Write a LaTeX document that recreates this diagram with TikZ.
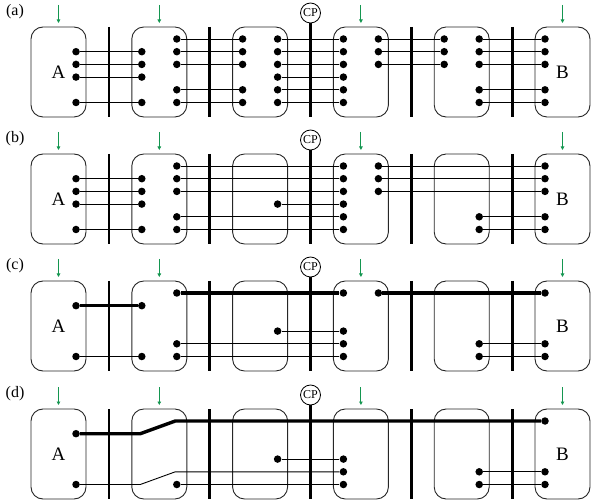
\documentclass[tikz,border=0pt]{standalone}
\usepackage{fontspec}
\setmainfont{Liberation Serif}
\usetikzlibrary{arrows.meta,positioning}

\definecolor{feedgreen}{RGB}{20,150,80}

\tikzset{
  unit/.style={draw=black!85, rounded corners=12pt, minimum width=55pt,
    minimum height=90pt, inner sep=0pt, outer sep=0pt, line width=0.9pt,
    font=\fontsize{19}{19}\selectfont},
  port/.style={circle, fill, inner sep=0pt, minimum size=7.5pt},
  barrier/.style={line width=2.8pt},
  wire/.style={line width=0.9pt},
  trunk/.style={line width=3.4pt},
  inlet/.style={draw=feedgreen, line width=0.9pt, -{Triangle[length=3.5pt,width=3.5pt]}},
  cpoint/.style={draw, circle, inner sep=0pt, minimum size=20pt, line width=0.8pt,
    font=\fontsize{12}{12}\selectfont},
}

\newcommand\portsL[3]{%
  \foreach \rw in {#3}
    \node[port] (#1#2l\rw) at ([xshift=-17.5pt,yshift={-(12+12.7*(\rw-1))*1pt}]#1#2.north) {};}
\newcommand\portsR[3]{%
  \foreach \rw in {#3}
    \node[port] (#1#2r\rw) at ([xshift=17.5pt,yshift={-(12+12.7*(\rw-1))*1pt}]#1#2.north) {};}

\begin{document}
\begin{tikzpicture}[x=1pt,y=-1pt]
  \useasboundingbox (0,0) rectangle (594,502);

  \foreach \p/\t in {a/27,b/154,c/281,d/409}{
    \node[font=\fontsize{16}{16}\selectfont] (\p lab) at (15,\t-15) {(\p)};
    \foreach \bx/\txt in {1/A,2/,3/,4/,5/,6/B}
      \node[unit] (\p\bx) at ({58.5+100.8*(\bx-1)},\t+45) {\txt};
    \node[cpoint] (\p cp) at (310.5,\t-14) {CP};
    \foreach \bx in {1,2,4,5}
      \draw[barrier] ({109+100.8*(\bx-1)},\t) -- ++(0,90);
    \draw[barrier] (\p cp) -- (310.5,\t+90);
    \foreach \bx in {1,2,4,6}
      \draw[inlet] ([yshift=22pt]\p\bx.north) -- ([yshift=4pt]\p\bx.north);
  }

  % (a)
  \portsR{a}{1}{2,3,4,6}
  \portsL{a}{2}{2,3,4,6}
  \portsR{a}{2}{1,2,3,5,6}
  \portsL{a}{3}{1,2,3,5,6}
  \portsR{a}{3}{1,...,6}
  \portsL{a}{4}{1,...,6}
  \portsR{a}{4}{1,2,3}
  \portsL{a}{5}{1,2,3}
  \portsR{a}{5}{1,2,3,5,6}
  \portsL{a}{6}{1,2,3,5,6}
  \foreach \rw in {2,3,4,6} \draw[wire] (a1r\rw) -- (a2l\rw);
  \foreach \rw in {1,2,3,5,6} \draw[wire] (a2r\rw) -- (a3l\rw);
  \foreach \rw in {1,...,6} \draw[wire] (a3r\rw) -- (a4l\rw);
  \foreach \rw in {1,2,3} \draw[wire] (a4r\rw) -- (a5l\rw);
  \foreach \rw in {1,2,3,5,6} \draw[wire] (a5r\rw) -- (a6l\rw);

  % (b)
  \portsR{b}{1}{2,3,4,6}
  \portsL{b}{2}{2,3,4,6}
  \portsR{b}{2}{1,2,3,5,6}
  \portsR{b}{3}{4}
  \portsL{b}{4}{1,...,6}
  \portsR{b}{4}{1,2,3}
  \portsR{b}{5}{5,6}
  \portsL{b}{6}{1,2,3,5,6}
  \foreach \rw in {2,3,4,6} \draw[wire] (b1r\rw) -- (b2l\rw);
  \foreach \rw in {1,2,3,5,6} \draw[wire] (b2r\rw) -- (b4l\rw);
  \draw[wire] (b3r4) -- (b4l4);
  \foreach \rw in {1,2,3} \draw[wire] (b4r\rw) -- (b6l\rw);
  \foreach \rw in {5,6} \draw[wire] (b5r\rw) -- (b6l\rw);

  % (c)
  \portsR{c}{1}{2,6}
  \portsL{c}{2}{2,6}
  \portsR{c}{2}{1,5,6}
  \portsR{c}{3}{4}
  \portsL{c}{4}{1,4,5,6}
  \portsR{c}{4}{1}
  \portsR{c}{5}{5,6}
  \portsL{c}{6}{1,5,6}
  \draw[trunk] (c1r2) -- (c2l2);
  \draw[wire] (c1r6) -- (c2l6);
  \draw[trunk] (c2r1) -- (c4l1);
  \foreach \rw in {5,6} \draw[wire] (c2r\rw) -- (c4l\rw);
  \draw[wire] (c3r4) -- (c4l4);
  \draw[trunk] (c4r1) -- (c6l1);
  \foreach \rw in {5,6} \draw[wire] (c5r\rw) -- (c6l\rw);

  % (d)
  \portsR{d}{1}{2,6}
  \portsR{d}{2}{6}
  \portsR{d}{3}{4}
  \portsL{d}{4}{4,5,6}
  \portsR{d}{5}{5,6}
  \portsL{d}{6}{1,5,6}
  \coordinate (dk1) at ([xshift=-19pt,yshift=-24.7pt]d2.north);
  \coordinate (dk2) at ([xshift=16pt,yshift=-12pt]d2.north);
  \coordinate (dk3) at ([xshift=-19pt,yshift=-75.5pt]d2.north);
  \coordinate (dk4) at ([xshift=16pt,yshift=-62.8pt]d2.north);
  \draw[trunk] (d1r2) -- (dk1) -- (dk2) -- (d6l1);
  \draw[wire] (d1r6) -- (dk3) -- (dk4) -- (d4l5);
  \draw[wire] (d2r6) -- (d4l6);
  \draw[wire] (d3r4) -- (d4l4);
  \foreach \rw in {5,6} \draw[wire] (d5r\rw) -- (d6l\rw);
\end{tikzpicture}
\end{document}
